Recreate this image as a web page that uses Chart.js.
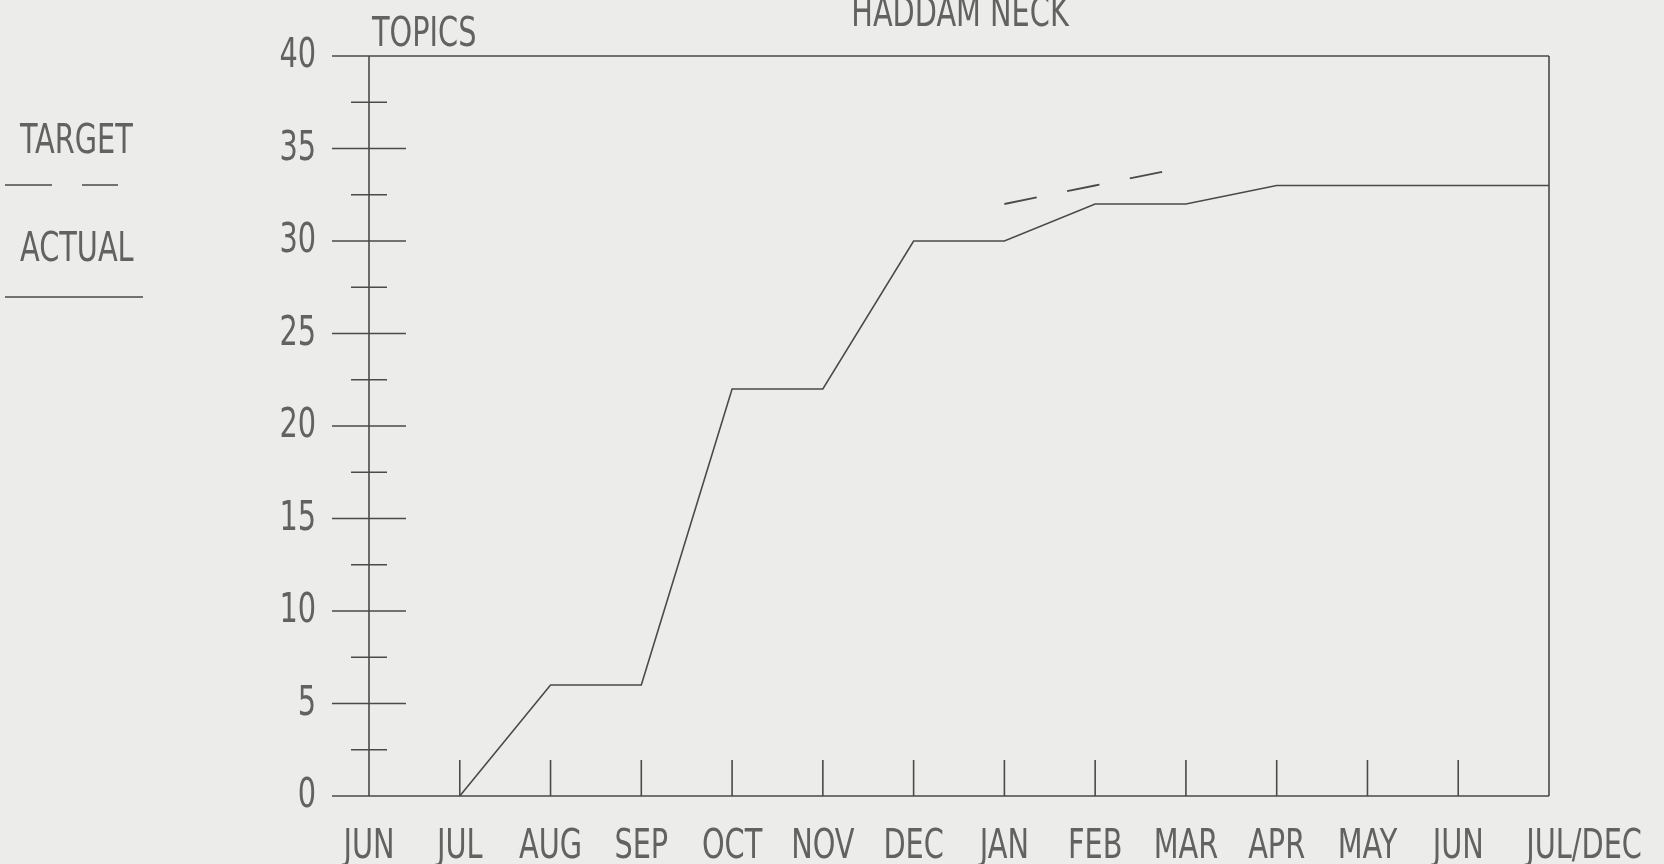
<!DOCTYPE html>
<html>
<head>
<meta charset="utf-8">
<title>Haddam Neck topics</title>
<script src="https://cdn.jsdelivr.net/npm/chart.js@4"></script>
<style>
  html, body { margin: 0; padding: 0; background: #ececea; }
  #wrap { width: 1664px; height: 864px; }
</style>
</head>
<body>
<div id="wrap"><canvas id="chart" width="1664" height="864"></canvas></div>
<script>
// Haddam Neck - topics, target vs actual

const months = ["JUN", "JUL", "AUG", "SEP", "OCT", "NOV", "DEC",
                "JAN", "FEB", "MAR", "APR", "MAY", "JUN", "JUL/DEC"];

const actual = [null, 0, 6, 6, 22, 22, 30, 30, 32, 32, 33, 33, 33, 33];

const target = [null, null, null, null, null, null, null, 32, 33, 34, null, null, null, null];

const majorTicks = [0, 5, 10, 15, 20, 25, 30, 35, 40];
const minorTicks = [2.5, 7.5, 12.5, 17.5, 22.5, 27.5, 32.5, 37.5];

const INK = "#4a4a4a";
const TEXT = "#626262";
const FONT = "40px 'Liberation Sans Narrow', 'DejaVu Sans Condensed', 'DejaVu Sans', sans-serif";
const SQUEEZE = 0.8;   // plotter lettering is narrow


// narrow lettering: squeeze horizontally around the anchor
function letter(ctx, text, x, y, align) {
    ctx.save();
    ctx.translate(x, y);
    ctx.scale(SQUEEZE, 1);
    ctx.textAlign = align;
    ctx.fillText(text, 0, 0);
    ctx.restore();
}

function letterWidth(ctx, text) {
    return ctx.measureText(text).width * SQUEEZE;
}


// axis frame, crossing ticks, labels, title and the side legend
const plotterFrame = {
    id: "plotterFrame",
    beforeDatasetsDraw(chart) {
        const ctx = chart.ctx;
        const x = chart.scales.x;
        const y = chart.scales.y;
        const left = x.getPixelForValue(0);
        const right = x.getPixelForValue(months.length - 1);
        const base = y.getPixelForValue(0);

        ctx.save();
        ctx.strokeStyle = INK;
        ctx.lineWidth = 1.6;

        // left axis and right border
        ctx.beginPath();
        ctx.moveTo(left, base);
        ctx.lineTo(left, y.getPixelForValue(40));
        ctx.moveTo(right, base);
        ctx.lineTo(right, y.getPixelForValue(40));
        ctx.stroke();

        majorTicks.forEach(v => {
            const py = y.getPixelForValue(v);
            ctx.beginPath();
            ctx.moveTo(left - 37, py);
            ctx.lineTo((v === 0 || v === 40) ? right : left + 37, py);
            ctx.stroke();
        });

        minorTicks.forEach(v => {
            const py = y.getPixelForValue(v);
            ctx.beginPath();
            ctx.moveTo(left - 18, py);
            ctx.lineTo(left + 18, py);
            ctx.stroke();
        });

        // month ticks up from the base line
        for (let i = 1; i < months.length - 1; i++) {
            const px = x.getPixelForValue(i);
            ctx.beginPath();
            ctx.moveTo(px, base);
            ctx.lineTo(px, base - 36);
            ctx.stroke();
        }

        // lettering
        ctx.fillStyle = TEXT;
        ctx.font = FONT;
        ctx.textBaseline = "middle";

        majorTicks.forEach(v => {
            letter(ctx, String(v), left - 53, y.getPixelForValue(v) + 1, "right");
        });

        months.forEach((m, i) => {
            const px = x.getPixelForValue(i);
            if (m.indexOf("/") > 0) {
                // first part centred on the tick, rest runs on to the right
                const head = m.split("/")[0];
                letter(ctx, m, px - letterWidth(ctx, head) / 2, base + 52, "left");
            } else {
                letter(ctx, m, px, base + 52, "center");
            }
        });

        ctx.textBaseline = "alphabetic";
        letter(ctx, "HADDAM NECK", 960, 26, "center");
        letter(ctx, "TOPICS", 372, 46, "left");
        letter(ctx, "TARGET", 20, 153, "left");
        letter(ctx, "ACTUAL", 20, 261, "left");

        // legend samples
        ctx.lineWidth = 1.3;
        ctx.beginPath();
        ctx.moveTo(5, 185);
        ctx.lineTo(52, 185);
        ctx.moveTo(82, 185);
        ctx.lineTo(118, 185);
        ctx.stroke();

        ctx.beginPath();
        ctx.moveTo(5, 297);
        ctx.lineTo(143, 297);
        ctx.stroke();

        ctx.restore();
    }
};


new Chart(document.getElementById("chart"), {
    type: "line",
    data: {
        labels: months,
        datasets: [
            {
                label: "ACTUAL",
                data: actual,
                borderColor: INK,
                borderWidth: 1.6,
                pointRadius: 0,
                tension: 0
            },
            {
                label: "TARGET",
                data: target,
                borderColor: INK,
                borderWidth: 1.8,
                borderDash: [33, 31],
                pointRadius: 0,
                tension: 0
            }
        ]
    },
    options: {
        responsive: false,
        animation: false,
        layout: {
            padding: { top: 56, right: 115, left: 369, bottom: 68 }
        },
        plugins: {
            legend: { display: false },
            title: { display: false },
            tooltip: { enabled: false }
        },
        scales: {
            x: {
                offset: false,
                grid: { display: false, drawTicks: false },
                border: { display: false },
                ticks: { display: false },
                afterFit: s => { s.height = 0; }
            },
            y: {
                min: 0,
                max: 40,
                grid: { display: false, drawTicks: false },
                border: { display: false },
                ticks: { display: false, stepSize: 5 },
                afterFit: s => { s.width = 0; }
            }
        }
    },
    plugins: [plotterFrame]
});
</script>
</body>
</html>
